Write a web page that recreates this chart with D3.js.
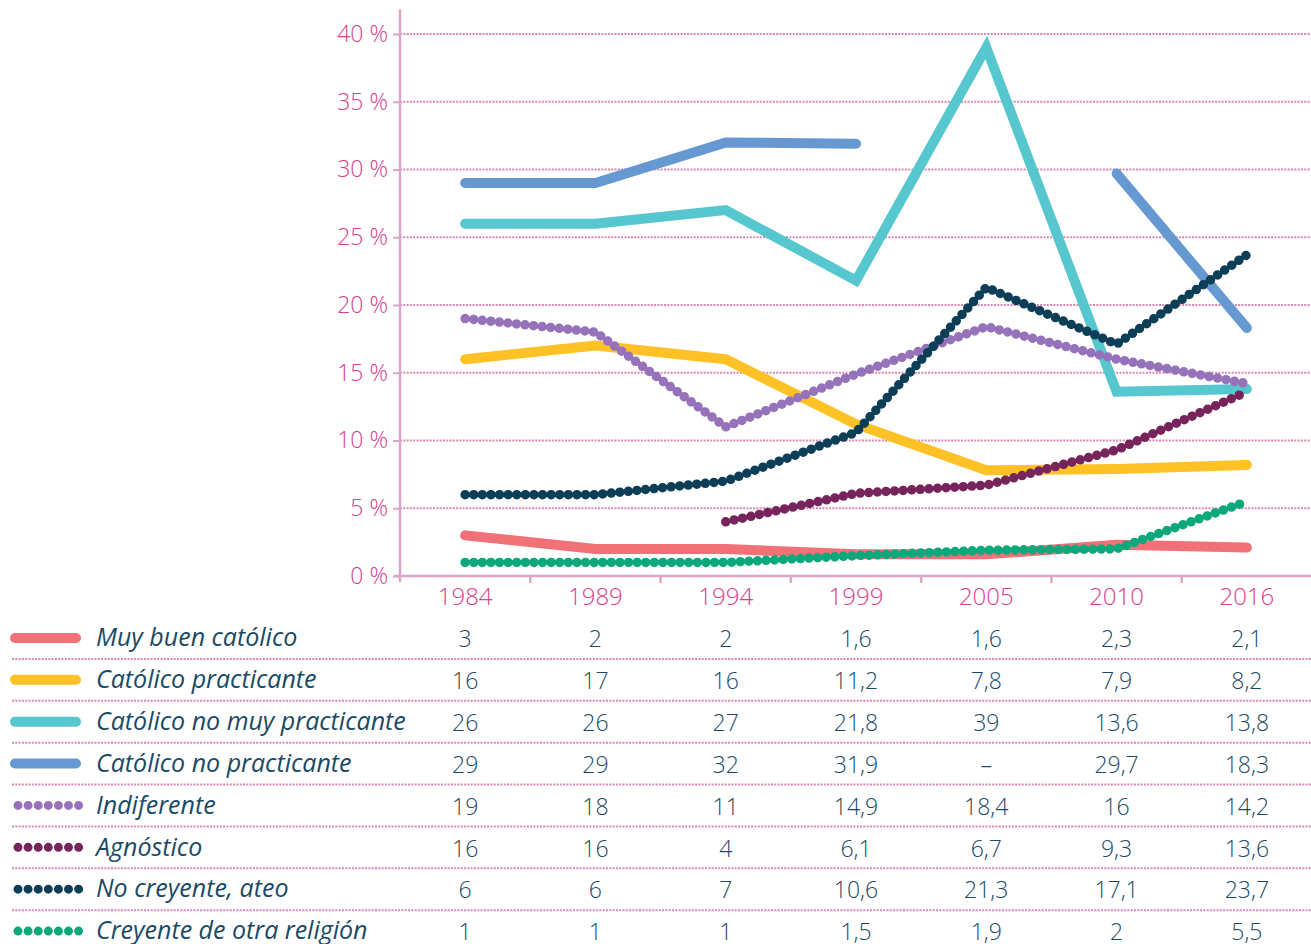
<!DOCTYPE html>
<html>
<head>
<meta charset="utf-8">
<script src="https://cdn.jsdelivr.net/npm/d3@7"></script>
<style>
  body { margin: 0; background: #fff; }
  text { font-family: "Open Sans", sans-serif; }
</style>
</head>
<body>
<script>
// años de la encuesta
var years = ["1984", "1989", "1994", "1999", "2005", "2010", "2016"];

var names = ["Muy buen católico", "Católico practicante", "Católico no muy practicante",
             "Católico no practicante", "Indiferente", "Agnóstico",
             "No creyente, ateo", "Creyente de otra religión"];

var colors = ["#f17176", "#fec226", "#56c7cf", "#6699d1", "#9572ba", "#76245b", "#0d3e58", "#0ba87b"];

// true = linea de puntos
var dotted = [false, false, false, false, true, true, true, true];

// valores de la tabla (null = "–")
var muyBuen     = [3, 2, 2, 1.6, 1.6, 2.3, 2.1];
var practicante = [16, 17, 16, 11.2, 7.8, 7.9, 8.2];
var noMuyPract  = [26, 26, 27, 21.8, 39, 13.6, 13.8];
var noPract     = [29, 29, 32, 31.9, null, 29.7, 18.3];
var indiferente = [19, 18, 11, 14.9, 18.4, 16, 14.2];
var agnostico   = [16, 16, 4, 6.1, 6.7, 9.3, 13.6];
var noCreyente  = [6, 6, 7, 10.6, 21.3, 17.1, 23.7];
var otraRel     = [1, 1, 1, 1.5, 1.9, 2, 5.5];

var tabla = [muyBuen, practicante, noMuyPract, noPract, indiferente, agnostico, noCreyente, otraRel];

// la linea de Agnóstico empieza en 1994
var lineStart = [0, 0, 0, 0, 0, 2, 0, 0];

var yTicks = [0, 5, 10, 15, 20, 25, 30, 35, 40];

var W = 1311, H = 944;
var pink = "#d6408c", axisPink = "#dca6c6", gridPink = "#d987b2", ink = "#1a4a66";

var svg = d3.select("body").append("svg")
            .attr("width", W)
            .attr("height", H);

var x = d3.scaleBand().domain(years).range([400, 1312]);
var cx = function(d) { return x(d) + x.bandwidth() / 2; };
var y = d3.scaleLinear().domain([0, 40]).range([576, 34]);

// grid
svg.append("g")
   .selectAll("line")
   .data(yTicks.slice(1))
   .enter()
   .append("line")
   .attr("x1", 400).attr("x2", W)
   .attr("y1", function(d) { return y(d); })
   .attr("y2", function(d) { return y(d); })
   .attr("stroke", gridPink)
   .attr("stroke-width", 2)
   .attr("stroke-dasharray", "2,1.3");

// eje y
var yAxis = svg.append("g")
   .attr("transform", "translate(400,0)")
   .call(d3.axisLeft(y).tickValues(yTicks).tickFormat(function(d) { return d + " %"; })
           .tickSize(7).tickPadding(5));
yAxis.select(".domain").remove();
yAxis.selectAll(".tick line").attr("stroke", axisPink).attr("stroke-width", 2);
yAxis.selectAll(".tick text")
     .attr("fill", pink)
     .attr("font-size", 23)
     .attr("font-weight", 300)
     .attr("font-family", "'Open Sans', sans-serif");

svg.append("line")
   .attr("x1", 400).attr("x2", 400)
   .attr("y1", y(41.8)).attr("y2", y(0) + 6)
   .attr("stroke", axisPink).attr("stroke-width", 2.5);

// eje x
svg.append("line")
   .attr("x1", 394).attr("x2", W)
   .attr("y1", y(0)).attr("y2", y(0))
   .attr("stroke", axisPink).attr("stroke-width", 2.5);

svg.append("g")
   .selectAll("line")
   .data(years.slice(1))
   .enter()
   .append("line")
   .attr("x1", function(d) { return x(d); })
   .attr("x2", function(d) { return x(d); })
   .attr("y1", y(0)).attr("y2", y(0) + 7)
   .attr("stroke", axisPink).attr("stroke-width", 2.5);

svg.append("g")
   .selectAll("text")
   .data(years)
   .enter()
   .append("text")
   .attr("x", cx)
   .attr("y", 605)
   .attr("text-anchor", "middle")
   .attr("fill", pink)
   .attr("font-size", 24)
   .attr("font-weight", 300)
   .text(function(d) { return d; });

// lineas
var series = names.map(function(n, i) {
  return {
    name: n, color: colors[i], dotted: dotted[i],
    values: years.map(function(yr, j) {
      return {year: yr, v: j < lineStart[i] ? null : tabla[i][j]};
    })
  };
});

var line = d3.line()
   .defined(function(d) { return d.v != null; })
   .x(function(d) { return cx(d.year); })
   .y(function(d) { return y(d.v); });

svg.append("g")
   .selectAll("path")
   .data(series.filter(function(s) { return !s.dotted; }))
   .enter()
   .append("path")
   .attr("d", function(s) { return line(s.values); })
   .attr("fill", "none")
   .attr("stroke", function(s) { return s.color; })
   .attr("stroke-width", 10)
   .attr("stroke-linecap", "round")
   .attr("stroke-linejoin", "miter");

svg.append("g")
   .selectAll("path")
   .data(series.filter(function(s) { return s.dotted; }))
   .enter()
   .append("path")
   .attr("d", function(s) { return line(s.values); })
   .attr("fill", "none")
   .attr("stroke", function(s) { return s.color; })
   .attr("stroke-width", 9.5)
   .attr("stroke-linecap", "round")
   .attr("stroke-linejoin", "round")
   .attr("stroke-dasharray", "0,8.6");

// tabla
var row = d3.scaleBand().domain(names).range([617, 952]);
var ry = function(n) { return row(n) + row.bandwidth() / 2; };

svg.append("g")
   .selectAll("line")
   .data(names.slice(1))
   .enter()
   .append("line")
   .attr("x1", 12).attr("x2", W)
   .attr("y1", function(n) { return row(n); })
   .attr("y2", function(n) { return row(n); })
   .attr("stroke", gridPink)
   .attr("stroke-width", 2)
   .attr("stroke-dasharray", "2,1.3");

var rows = svg.append("g")
   .selectAll("g")
   .data(series)
   .enter()
   .append("g")
   .attr("transform", function(s) { return "translate(0," + ry(s.name) + ")"; });

rows.filter(function(s) { return !s.dotted; })
    .append("line")
    .attr("x1", 15).attr("x2", 76)
    .attr("stroke", function(s) { return s.color; })
    .attr("stroke-width", 10)
    .attr("stroke-linecap", "round");

rows.filter(function(s) { return s.dotted; })
    .append("line")
    .attr("x1", 18).attr("x2", 79)
    .attr("stroke", function(s) { return s.color; })
    .attr("stroke-width", 9)
    .attr("stroke-linecap", "round")
    .attr("stroke-dasharray", "0,10.1");

rows.append("text")
    .attr("x", 96)
    .attr("dy", "0.33em")
    .attr("fill", ink)
    .attr("font-size", 25)
    .attr("font-style", "italic")
    .text(function(s) { return s.name; });

var fmt = function(v) { return v == null ? "–" : String(v).replace(".", ","); };

rows.selectAll(".val")
    .data(function(s, i) { return tabla[i]; })
    .enter()
    .append("text")
    .attr("class", "val")
    .attr("x", function(v, j) { return cx(years[j]); })
    .attr("dy", "0.4em")
    .attr("text-anchor", "middle")
    .attr("fill", ink)
    .attr("font-size", 23)
    .attr("font-weight", 300)
    .text(fmt);
</script>
</body>
</html>
